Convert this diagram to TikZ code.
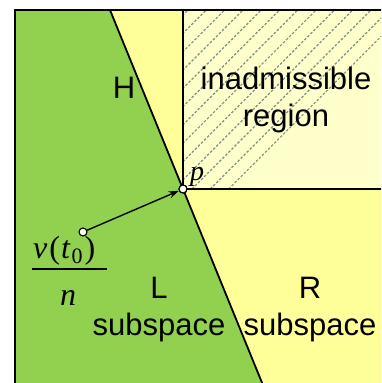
\documentclass[tikz,border=0pt]{standalone}
\usepackage{fontspec}
\setmainfont{Liberation Sans}
\newfontfamily\serifa{Liberation Serif}
\usetikzlibrary{arrows.meta,positioning}
\definecolor{verde}{HTML}{92D050}
\definecolor{amarelo}{HTML}{FFFF99}
\definecolor{amareloclaro}{HTML}{FFFFCC}
\definecolor{hachura}{HTML}{7F8F82}

\begin{document}
\begin{tikzpicture}[x=1pt, y=-1pt,
  borda/.style={black, line width=1.8pt},
  fronteira/.style={black, line width=1.2pt},
  hach/.style={hachura, line width=1.2pt, dash pattern=on 2.5pt off 1.8pt},
  ponto/.style={circle, draw=black, fill=white, line width=1.1pt, inner sep=0pt, minimum size=8pt},
  rotulo/.style={font=\fontsize{31}{37}\selectfont, align=center, inner sep=0pt},
  mat/.style={font=\serifa\fontsize{32}{34}\selectfont, inner sep=0pt}]

\useasboundingbox (0,0) rectangle (381,383);
\clip (0,0) rectangle (381,383);

% ================= regioes =================
\coordinate (topoH) at (110,10);
\coordinate (baseH) at (267,395);
\fill[amarelo] (15,10) rectangle (395,395);
\fill[verde] (15,10) -- (topoH) -- (baseH) -- (15,395) -- cycle;
\fill[amareloclaro] (183,10) rectangle (395,189);

% hachura da regiao inadmissivel
\begin{scope}
  \clip (183,10) rectangle (395,189);
  \foreach \k in {0,...,22}
    \draw[hach] (\k*18.3-174,189) -- ++(179,-179);
\end{scope}

% ================= linhas =================
\coordinate (p) at (183,189);
\coordinate (topoV) at (183,10);
\coordinate (dirH) at (395,189);
\draw[fronteira] (topoV) -- (p) -- (dirH);
\draw[borda] (topoH) -- (baseH);
\draw[borda] (395,10) -- (15,10) -- (15,383.5) -- (395,383.5);

% ================= textos =================
% (base = linha de baixo do no)
\node[rotulo] (H) at (124,88) {H};
\node[rotulo, anchor=base] (inad) at (286,126) {inadmissible\\region};
\node[rotulo, anchor=base] (L) at (159,335) {L\\subspace};
\node[rotulo, anchor=base] (R) at (310,335) {R\\subspace};
\node[mat, anchor=base west, font=\serifa\fontsize{28}{30}\selectfont] (plab) at (190,180) {\textit{p}};

% v(t0)/n
\node[mat, anchor=base west] (num) at (33,258)
  {\textit{v}\kern2pt(\kern1pt\textit{t}\kern1pt\raisebox{-5pt}{\fontsize{22}{22}\selectfont 0}\kern2pt)};
\node[mat, anchor=base] (den) at (68,305) {\textit{n}};
\draw[black, line width=1.1pt] (32,269) -- (107,269);

% ================= seta =================
\node[ponto] (v) at (83,232) {};
\node[ponto] (pp) at (p) {};
\draw[black, line width=1.4pt, -{Stealth[length=10pt,width=7pt]}] (v) -- (pp);
\node[ponto] at (p) {};

\end{tikzpicture}
\end{document}
